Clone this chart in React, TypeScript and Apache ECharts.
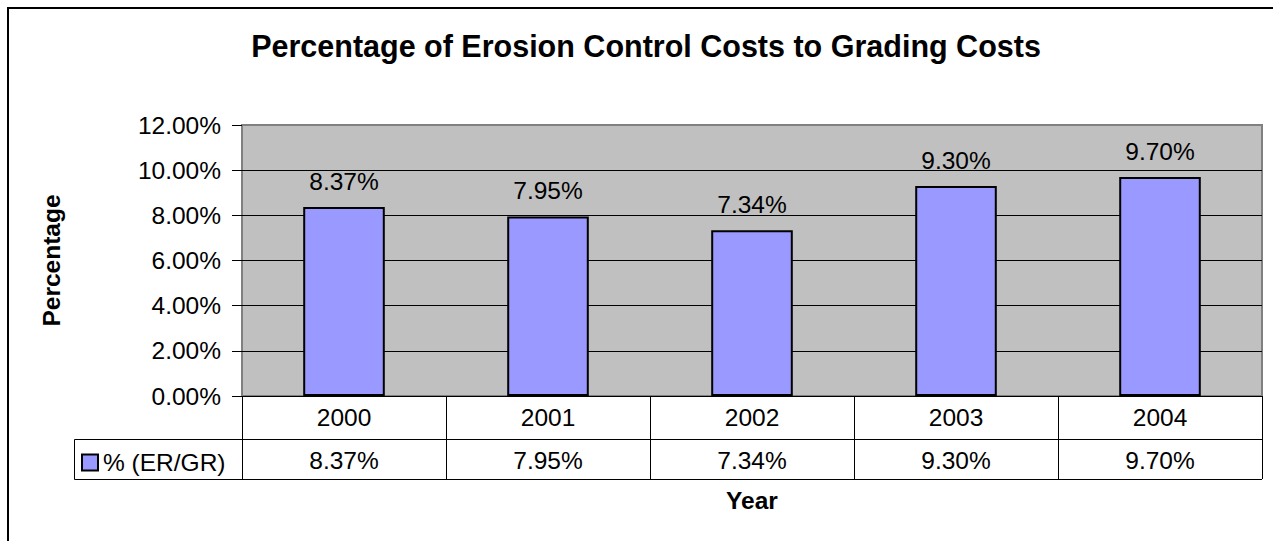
import React, { useEffect, useRef } from "react";
import * as echarts from "echarts";

const years = ["2000", "2001", "2002", "2003", "2004"];
const ratios = [8.37, 7.95, 7.34, 9.3, 9.7];
const seriesName = "% (ER/GR)";
const titleText = "Percentage of Erosion Control Costs to Grading Costs";
const yAxisTitle = "Percentage";
const xAxisTitle = "Year";

const FONT = "'Liberation Sans', Arial, sans-serif";
const fmt = (v: number) => `${v.toFixed(2)}%`;

export default function App() {
  const ref = useRef<HTMLDivElement>(null);
  useEffect(() => {
    if (!ref.current) return;
    const chart = echarts.init(ref.current, undefined, { renderer: "svg" });
    chart.setOption({
      animation: false,
      backgroundColor: "#fff",
      textStyle: { fontFamily: FONT },
      title: {
        text: titleText,
        left: 646,
        top: 30,
        textAlign: "center",
        padding: 0,
        textStyle: { fontFamily: FONT, fontSize: 30.5, fontWeight: "bold", color: "#000" },
      },
      legend: {
        left: 81,
        top: 450,
        padding: 0,
        icon: "rect",
        itemWidth: 16,
        itemHeight: 16,
        itemStyle: { borderColor: "#000", borderWidth: 2 },
        textStyle: { fontFamily: FONT, fontSize: 24.5, color: "#000" },
        data: [seriesName],
      },
      grid: {
        left: 242,
        top: 125,
        right: 11,
        bottom: 145,
        show: true,
        backgroundColor: "#C0C0C0",
        borderColor: "#808080",
        borderWidth: 2,
      },
      xAxis: [
        {
          type: "category",
          data: years,
          position: "bottom",
          axisLine: { show: true, lineStyle: { color: "#000", width: 1 } },
          axisTick: { show: true, interval: 0, length: 43, lineStyle: { color: "#000", width: 1 } },
          axisLabel: { fontFamily: FONT, fontSize: 24.5, color: "#000", margin: 9, interval: 0 },
        },
        {
          type: "category",
          data: years,
          position: "bottom",
          offset: 43,
          name: xAxisTitle,
          nameLocation: "middle",
          nameGap: 49,
          nameTextStyle: { fontFamily: FONT, fontSize: 24.5, fontWeight: "bold", color: "#000" },
          axisLine: { show: true, lineStyle: { color: "#000", width: 1 } },
          axisTick: { show: true, interval: 0, length: 40, lineStyle: { color: "#000", width: 1 } },
          axisLabel: {
            fontFamily: FONT,
            fontSize: 24.5,
            color: "#000",
            margin: 9,
            interval: 0,
            formatter: (_v: string, i: number) => fmt(ratios[i]),
          },
        },
      ],
      yAxis: {
        type: "value",
        min: 0,
        max: 12,
        interval: 2,
        name: yAxisTitle,
        nameLocation: "middle",
        nameGap: 178,
        nameRotate: 90,
        nameTextStyle: { fontFamily: FONT, fontSize: 24.5, fontWeight: "bold", color: "#000" },
        axisLine: { show: false },
        axisTick: { show: true, length: 10, lineStyle: { color: "#000", width: 1 } },
        axisLabel: {
          fontFamily: FONT,
          fontSize: 24.5,
          color: "#000",
          margin: 21,
          formatter: (v: number) => fmt(v),
        },
        splitLine: { show: true, showMaxLine: false, lineStyle: { color: "#000", width: 1 } },
      },
      series: [
        {
          name: seriesName,
          type: "bar",
          data: ratios,
          barWidth: "40%",
          itemStyle: { color: "#9999FF", borderColor: "#000", borderWidth: 2 },
          label: {
            show: true,
            position: "top",
            distance: 13,
            fontFamily: FONT,
            fontSize: 24.5,
            color: "#000",
            formatter: (p: any) => fmt(p.value),
          },
        },
      ],
      graphic: [
        {
          type: "rect",
          silent: true,
          shape: { x: 8, y: 8, width: 1400, height: 700 },
          style: { fill: "none", stroke: "#000", lineWidth: 2 },
        },
        {
          type: "rect",
          silent: true,
          shape: { x: 74.5, y: 439.5, width: 168, height: 40 },
          style: { fill: "none", stroke: "#000", lineWidth: 1 },
        },
        {
          type: "line",
          silent: true,
          shape: { x1: 242, y1: 479.5, x2: 1262, y2: 479.5 },
          style: { stroke: "#000", lineWidth: 1 },
        },
      ],
    });
    return () => chart.dispose();
  }, []);
  return (
    <div
      ref={ref}
      style={{ position: "absolute", left: 0, top: 0, width: 1273, height: 541 }}
    />
  );
}
